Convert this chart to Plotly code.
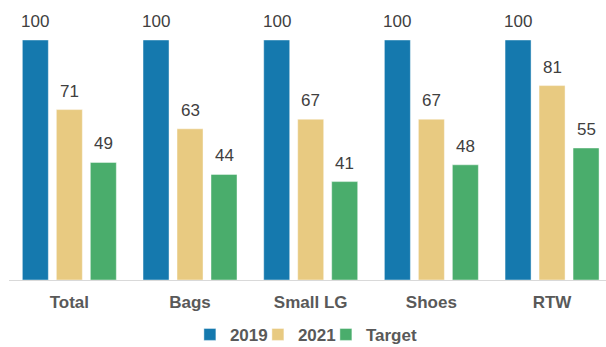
import plotly.graph_objects as go

# Category groups and index values (2019 = 100)
categories = ["Total", "Bags", "Small LG", "Shoes", "RTW"]
series_names = ["2019", "2021", "Target"]
values_2019 = [100, 100, 100, 100, 100]
values_2021 = [71, 63, 67, 67, 81]
values_target = [49, 44, 41, 48, 55]

series_values = [values_2019, values_2021, values_target]
colors = ["#1579ae", "#e8ca81", "#4aad6c"]

fig = go.Figure()
for name, vals, col in zip(series_names, series_values, colors):
    fig.add_trace(go.Bar(
        x=categories, y=vals, name=name,
        marker=dict(color=col, line=dict(color="rgba(255,255,255,0.55)", width=0.8)),
    ))

# Blank legend entry (no data) that widens the compact legend box for the last label
fig.add_trace(go.Scatter(
    x=[None], y=[None], name=" ", mode="markers", hoverinfo="skip",
    marker=dict(color="rgba(0,0,0,0)", size=1),
))

# Value labels above each bar (slot width ~34 px per bar within a group)
slot_px = 34
for i, vals in enumerate(series_values):
    for cat, v in zip(categories, vals):
        fig.add_annotation(
            x=cat, y=v, text=str(v), showarrow=False,
            xanchor="center", yanchor="bottom",
            xshift=(i - 1) * slot_px, yshift=7,
            font=dict(family="Arial", size=17, color="#404040"),
        )

fig.update_layout(
    width=606, height=347,
    margin=dict(l=9, r=0, t=40, b=67, autoexpand=False),
    paper_bgcolor="white", plot_bgcolor="white",
    barmode="group", bargap=0.155, bargroupgap=0.235,
    showlegend=True,
    legend=dict(
        orientation="h", x=0.303, xanchor="left",
        yref="container", y=0.035, yanchor="middle",
        font=dict(family="Arial", size=17, color="#595959", weight="bold"),
        entrywidth=23, traceorder="normal", itemclick=False,
    ),
    xaxis=dict(
        range=[-0.5, 4.447], showline=True, linecolor="#d9d9d9", linewidth=1,
        ticks="outside", ticklen=7, tickcolor="rgba(0,0,0,0)",
        tickfont=dict(family="Arial", size=17, color="#595959", weight="bold"),
        showgrid=False, fixedrange=True,
    ),
    yaxis=dict(range=[0, 100], visible=False, showgrid=False, fixedrange=True),
)

fig.write_html("out.html")
